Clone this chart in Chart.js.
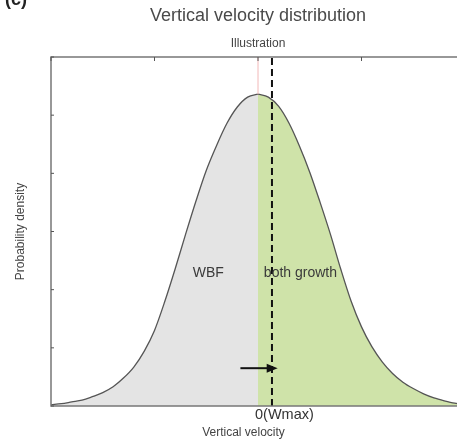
<!DOCTYPE html>
<html>
<head>
<meta charset="utf-8">
<script src="https://cdn.jsdelivr.net/npm/chart.js@4"></script>
<style>
  html, body { margin: 0; padding: 0; background: #fff; overflow: hidden; }
  #wrap { width: 465px; height: 439px; position: relative; }
</style>
</head>
<body>
<div id="wrap"><canvas id="velChart"></canvas></div>
<script>
// velocity (scaled units, 0 = Wmax) and probability density
const velLeft = [-2.0, -1.9, -1.8, -1.7, -1.6, -1.5, -1.4, -1.3, -1.2, -1.1, -1.0, -0.9, -0.8, -0.7, -0.6, -0.5, -0.4, -0.3, -0.2, -0.1, 0];
const densLeft = [0.02, 0.04, 0.07, 0.10, 0.16, 0.23, 0.33, 0.48, 0.67, 0.94, 1.3, 1.8, 2.36, 2.95, 3.52, 4.05, 4.48, 4.86, 5.14, 5.31, 5.36];
const velRight = [0, 0.1, 0.2, 0.3, 0.4, 0.5, 0.6, 0.7, 0.8, 0.9, 1.0, 1.1, 1.2, 1.3, 1.4, 1.5, 1.6, 1.7, 1.8, 1.9, 2.0];
const densRight = [5.36, 5.31, 5.15, 4.86, 4.47, 4.02, 3.5, 2.95, 2.35, 1.8, 1.36, 1.02, 0.76, 0.56, 0.41, 0.3, 0.21, 0.14, 0.09, 0.05, 0.03];

const wmaxLine = 0.135;   // dashed line position
const peakDensity = 5.36;
const arrowFrom = -0.17, arrowTo = 0.19, arrowY = 0.65;
const regionLabels = [
  { text: 'WBF', x: -0.48, y: 2.29 },
  { text: 'both growth', x: 0.41, y: 2.29 }
];

const FONT = '"Liberation Sans", Arial, sans-serif';

function toPoints(xs, ys) {
  return xs.map((x, i) => ({ x: x, y: ys[i] }));
}

// frame, inward ticks, arrow, region labels and extra texts
const decorations = {
  id: 'decorations',
  afterDraw(chart) {
    const ctx = chart.ctx;
    const area = chart.chartArea;
    const xs = chart.scales.x;
    const ys = chart.scales.y;
    ctx.save();

    // frame
    ctx.strokeStyle = '#777';
    ctx.lineWidth = 1.5;
    ctx.strokeRect(area.left, area.top, area.right - area.left, area.bottom - area.top);

    // inward ticks
    ctx.lineWidth = 1;
    ctx.strokeStyle = '#555';
    xs.ticks.forEach(t => {
      const px = xs.getPixelForValue(t.value);
      ctx.beginPath();
      ctx.moveTo(px, area.top);
      ctx.lineTo(px, area.top + 4);
      ctx.stroke();
    });
    ys.ticks.forEach(t => {
      const py = ys.getPixelForValue(t.value);
      ctx.beginPath();
      ctx.moveTo(area.left, py);
      ctx.lineTo(area.left + 3, py);
      ctx.stroke();
    });

    // arrow
    const ax0 = xs.getPixelForValue(arrowFrom);
    const ax1 = xs.getPixelForValue(arrowTo);
    const ay = ys.getPixelForValue(arrowY);
    ctx.strokeStyle = '#111';
    ctx.fillStyle = '#111';
    ctx.lineWidth = 2;
    ctx.beginPath();
    ctx.moveTo(ax0, ay);
    ctx.lineTo(ax1 - 6, ay);
    ctx.stroke();
    ctx.beginPath();
    ctx.moveTo(ax1, ay);
    ctx.lineTo(ax1 - 11, ay - 4.5);
    ctx.lineTo(ax1 - 11, ay + 4.5);
    ctx.closePath();
    ctx.fill();

    // region labels
    ctx.font = '14px ' + FONT;
    ctx.fillStyle = '#3a3a3a';
    ctx.textAlign = 'center';
    ctx.textBaseline = 'middle';
    regionLabels.forEach(l => {
      ctx.fillText(l.text, xs.getPixelForValue(l.x), ys.getPixelForValue(l.y));
    });

    // x axis title
    ctx.font = '12px ' + FONT;
    ctx.fillStyle = '#444';
    ctx.fillText('Vertical velocity', 243.5, 433);

    // panel letter, cut at the top
    ctx.font = 'bold 18px ' + FONT;
    ctx.fillStyle = '#222';
    ctx.textAlign = 'left';
    ctx.fillText('(c)', 5, 0);

    ctx.restore();
  }
};

const data = {
  datasets: [
    {
      label: 'Wmax',
      data: [{ x: wmaxLine, y: 0 }, { x: wmaxLine, y: 6 }],
      borderColor: '#111',
      borderWidth: 2,
      borderDash: [7, 4],
      pointRadius: 0,
      fill: false,
      order: 1
    },
    {
      label: 'peak',
      data: [{ x: 0, y: peakDensity }, { x: 0, y: 6 }],
      borderColor: '#f2b8b8',
      borderWidth: 1,
      pointRadius: 0,
      fill: false,
      order: 2
    },
    {
      label: 'WBF',
      data: toPoints(velLeft, densLeft),
      borderColor: '#555',
      borderWidth: 1.3,
      backgroundColor: '#e4e4e4',
      fill: 'origin',
      pointRadius: 0,
      cubicInterpolationMode: 'monotone',
      order: 3
    },
    {
      label: 'both growth',
      data: toPoints(velRight, densRight),
      borderColor: '#555',
      borderWidth: 1.3,
      backgroundColor: '#cfe3a9',
      fill: 'origin',
      pointRadius: 0,
      cubicInterpolationMode: 'monotone',
      order: 3
    }
  ]
};

const config = {
  type: 'line',
  data: data,
  options: {
    responsive: true,
    maintainAspectRatio: false,
    animation: false,
    layout: { padding: 0 },
    plugins: {
      legend: { display: false },
      tooltip: { enabled: false },
      title: {
        display: true,
        text: 'Vertical velocity distribution',
        fullSize: false,
        color: '#4a4a4a',
        font: { family: FONT, size: 18, weight: 'normal' },
        padding: { top: 5.2, bottom: 5 }
      },
      subtitle: {
        display: true,
        text: 'Illustration',
        fullSize: false,
        color: '#444',
        font: { family: FONT, size: 12 },
        padding: { top: 5, bottom: 5.8 }
      }
    },
    scales: {
      x: {
        type: 'linear',
        min: -2,
        max: 2,
        grid: { display: false, drawTicks: false },
        border: { display: false },
        ticks: {
          stepSize: 1,
          align: 'start',
          labelOffset: -3,
          padding: 0,
          color: '#333',
          font: { family: FONT, size: 14.5 },
          maxRotation: 0,
          autoSkip: false,
          callback: v => (v === 0 ? '0(Wmax)' : '')
        },
        afterFit: scale => { scale.height = 33; }
      },
      y: {
        min: 0,
        max: 6,
        grid: { display: false, drawTicks: false },
        border: { display: false },
        ticks: { display: false, stepSize: 1 },
        title: {
          display: true,
          text: 'Probability density',
          color: '#444',
          font: { family: FONT, size: 12 },
          padding: { top: 13.8, bottom: 0 }
        },
        afterFit: scale => { scale.width = 51; }
      }
    }
  },
  plugins: [decorations]
};

const ctx = document.getElementById('velChart').getContext('2d');
new Chart(ctx, config);
</script>
</body>
</html>
